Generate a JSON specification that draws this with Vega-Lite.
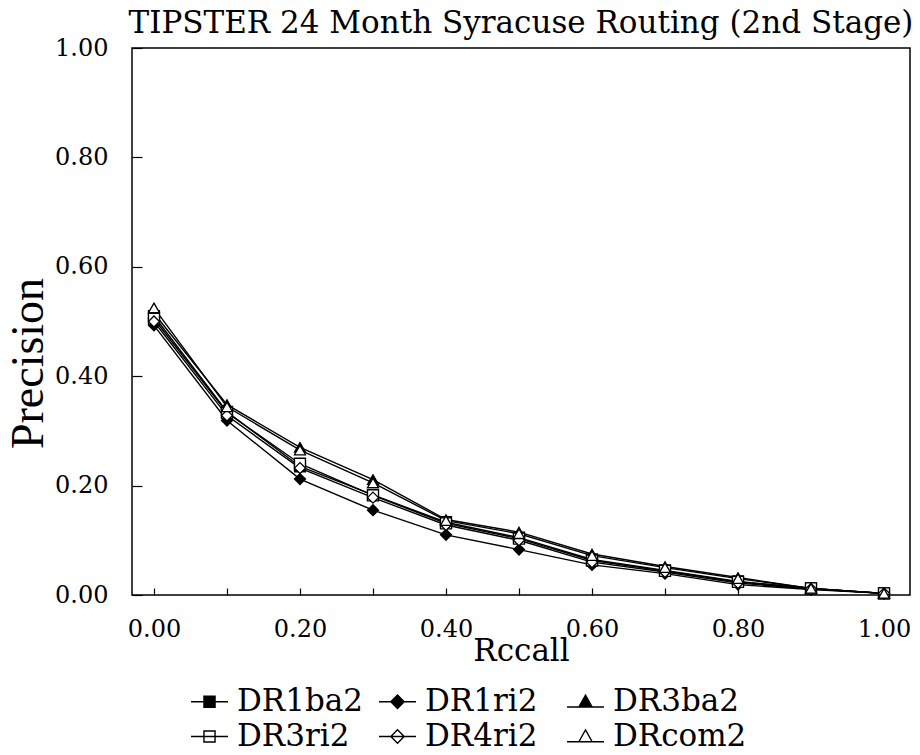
{
  "$schema": "https://vega.github.io/schema/vega-lite/v6.json",
  "autosize": "none",
  "padding": {"left": 132, "top": 48, "right": 10, "bottom": 160},
  "width": 778,
  "height": 547,
  "background": "white",
  "title": {
    "text": "TIPSTER 24 Month Syracuse Routing (2nd Stage)",
    "font": "DejaVu Serif",
    "fontSize": 31,
    "fontWeight": "normal",
    "color": "black",
    "anchor": "middle",
    "offset": -4
  },
  "config": {
    "view": {"stroke": "black", "strokeWidth": 1.5},
    "axis": {
      "grid": false,
      "domain": false,
      "tickColor": "black",
      "tickWidth": 1.2,
      "labelFont": "DejaVu Serif",
      "labelFontSize": 24,
      "labelColor": "black",
      "titleFont": "DejaVu Serif",
      "titleColor": "black",
      "titleFontWeight": "normal"
    },
    "legend": {
      "title": null,
      "orient": "none",
      "legendX": 58,
      "legendY": 634,
      "direction": "horizontal",
      "columns": 3,
      "gridAlign": "all",
      "padding": 0,
      "columnPadding": 5,
      "rowPadding": 0,
      "symbolSize": 1369,
      "symbolStrokeWidth": 1.4,
      "symbolStrokeColor": "black",
      "symbolOpacity": 1,
      "labelFont": "DejaVu Serif",
      "labelFontSize": 31,
      "labelColor": "black",
      "labelOffset": 8
    }
  },
  "resolve": {"scale": {"shape": "independent", "fill": "independent", "stroke": "independent"}},
  "data": {
    "values": [
      {"r": 0.0, "p": 0.510, "s": "DR1ba2"}, {"r": 0.1, "p": 0.335, "s": "DR1ba2"}, {"r": 0.2, "p": 0.235, "s": "DR1ba2"}, {"r": 0.3, "p": 0.183, "s": "DR1ba2"}, {"r": 0.4, "p": 0.133, "s": "DR1ba2"}, {"r": 0.5, "p": 0.105, "s": "DR1ba2"}, {"r": 0.6, "p": 0.065, "s": "DR1ba2"}, {"r": 0.7, "p": 0.045, "s": "DR1ba2"}, {"r": 0.8, "p": 0.025, "s": "DR1ba2"}, {"r": 0.9, "p": 0.012, "s": "DR1ba2"}, {"r": 1.0, "p": 0.003, "s": "DR1ba2"},
      {"r": 0.0, "p": 0.493, "s": "DR1ri2"}, {"r": 0.1, "p": 0.319, "s": "DR1ri2"}, {"r": 0.2, "p": 0.212, "s": "DR1ri2"}, {"r": 0.3, "p": 0.155, "s": "DR1ri2"}, {"r": 0.4, "p": 0.110, "s": "DR1ri2"}, {"r": 0.5, "p": 0.083, "s": "DR1ri2"}, {"r": 0.6, "p": 0.055, "s": "DR1ri2"}, {"r": 0.7, "p": 0.039, "s": "DR1ri2"}, {"r": 0.8, "p": 0.019, "s": "DR1ri2"}, {"r": 0.9, "p": 0.010, "s": "DR1ri2"}, {"r": 1.0, "p": 0.003, "s": "DR1ri2"},
      {"r": 0.0, "p": 0.515, "s": "DR3ba2"}, {"r": 0.1, "p": 0.348, "s": "DR3ba2"}, {"r": 0.2, "p": 0.270, "s": "DR3ba2"}, {"r": 0.3, "p": 0.211, "s": "DR3ba2"}, {"r": 0.4, "p": 0.138, "s": "DR3ba2"}, {"r": 0.5, "p": 0.115, "s": "DR3ba2"}, {"r": 0.6, "p": 0.075, "s": "DR3ba2"}, {"r": 0.7, "p": 0.052, "s": "DR3ba2"}, {"r": 0.8, "p": 0.032, "s": "DR3ba2"}, {"r": 0.9, "p": 0.012, "s": "DR3ba2"}, {"r": 1.0, "p": 0.003, "s": "DR3ba2"},
      {"r": 0.0, "p": 0.505, "s": "DR3ri2"}, {"r": 0.1, "p": 0.333, "s": "DR3ri2"}, {"r": 0.2, "p": 0.240, "s": "DR3ri2"}, {"r": 0.3, "p": 0.182, "s": "DR3ri2"}, {"r": 0.4, "p": 0.131, "s": "DR3ri2"}, {"r": 0.5, "p": 0.103, "s": "DR3ri2"}, {"r": 0.6, "p": 0.063, "s": "DR3ri2"}, {"r": 0.7, "p": 0.044, "s": "DR3ri2"}, {"r": 0.8, "p": 0.024, "s": "DR3ri2"}, {"r": 0.9, "p": 0.012, "s": "DR3ri2"}, {"r": 1.0, "p": 0.003, "s": "DR3ri2"},
      {"r": 0.0, "p": 0.500, "s": "DR4ri2"}, {"r": 0.1, "p": 0.328, "s": "DR4ri2"}, {"r": 0.2, "p": 0.232, "s": "DR4ri2"}, {"r": 0.3, "p": 0.178, "s": "DR4ri2"}, {"r": 0.4, "p": 0.128, "s": "DR4ri2"}, {"r": 0.5, "p": 0.100, "s": "DR4ri2"}, {"r": 0.6, "p": 0.060, "s": "DR4ri2"}, {"r": 0.7, "p": 0.042, "s": "DR4ri2"}, {"r": 0.8, "p": 0.022, "s": "DR4ri2"}, {"r": 0.9, "p": 0.011, "s": "DR4ri2"}, {"r": 1.0, "p": 0.003, "s": "DR4ri2"},
      {"r": 0.0, "p": 0.525, "s": "DRcom2"}, {"r": 0.1, "p": 0.344, "s": "DRcom2"}, {"r": 0.2, "p": 0.265, "s": "DRcom2"}, {"r": 0.3, "p": 0.205, "s": "DRcom2"}, {"r": 0.4, "p": 0.136, "s": "DRcom2"}, {"r": 0.5, "p": 0.112, "s": "DRcom2"}, {"r": 0.6, "p": 0.072, "s": "DRcom2"}, {"r": 0.7, "p": 0.050, "s": "DRcom2"}, {"r": 0.8, "p": 0.030, "s": "DRcom2"}, {"r": 0.9, "p": 0.012, "s": "DRcom2"}, {"r": 1.0, "p": 0.003, "s": "DRcom2"}
    ]
  },
  "encoding": {
    "x": {
      "field": "r",
      "type": "quantitative",
      "scale": {"domain": [-0.0301, 1.0356], "nice": false, "zero": false},
      "axis": {
        "title": "Rccall",
        "titleFontSize": 31,
        "titleBaseline": "alphabetic",
        "titleY": 65,
        "values": [0, 0.1, 0.2, 0.3, 0.4, 0.5, 0.6, 0.7, 0.8, 0.9, 1.0],
        "labelExpr": "round(datum.value * 10) % 2 == 0 ? format(datum.value, '.2f') : ''",
        "tickSize": -7,
        "labelPadding": 29
      }
    },
    "y": {
      "field": "p",
      "type": "quantitative",
      "scale": {"domain": [0, 1], "nice": false},
      "axis": {
        "title": "Precision",
        "titleFont": "Liberation Serif",
        "titleFontSize": 46,
        "titleAngle": -90,
        "titleBaseline": "alphabetic",
        "titleAlign": "center",
        "titleX": -90,
        "titleY": 315,
        "values": [0, 0.2, 0.4, 0.6, 0.8, 1.0],
        "format": ".2f",
        "tickSize": -10,
        "labelPadding": 34
      }
    }
  },
  "layer": [
    {
      "mark": {"type": "point", "filled": true, "strokeWidth": 1.4, "size": 1, "opacity": 1},
      "encoding": {
        "shape": {
          "field": "s",
          "type": "nominal",
          "scale": {
            "domain": ["DR1ba2", "DR1ri2", "DR3ba2", "DR3ri2", "DR4ri2", "DRcom2"],
            "range": [
              "M-1,0H1M-0.3,-0.3H0.3V0.3H-0.3Z",
              "M-1,0H1M0,-0.36L0.36,0L0,0.36L-0.36,0Z",
              "M-1,0.28H1M0,-0.36L0.36,0.28L-0.36,0.28Z",
              "M-1,0H1M-0.3,-0.3H0.3V0.3H-0.3Z",
              "M-1,0H1M0,-0.36L0.36,0L0,0.36L-0.36,0Z",
              "M-1,0.28H1M0,-0.36L0.36,0.28L-0.36,0.28Z"
            ]
          },
          "legend": {"title": null}
        },
        "fill": {
          "field": "s",
          "type": "nominal",
          "scale": {"domain": ["DR1ba2", "DR1ri2", "DR3ba2", "DR3ri2", "DR4ri2", "DRcom2"], "range": ["black", "black", "black", "white", "white", "white"]},
          "legend": {"title": null}
        },
        "stroke": {
          "field": "s",
          "type": "nominal",
          "scale": {"domain": ["DR1ba2", "DR1ri2", "DR3ba2", "DR3ri2", "DR4ri2", "DRcom2"], "range": ["black", "black", "black", "black", "black", "black"]},
          "legend": {"title": null}
        }
      }
    },
    {
      "mark": {"type": "line", "color": "black", "strokeWidth": 1.4},
      "encoding": {"detail": {"field": "s"}}
    },
    {
      "mark": {"type": "point", "filled": true, "stroke": "black", "strokeWidth": 1.3, "size": 120, "opacity": 1},
      "encoding": {
        "shape": {
          "field": "s",
          "type": "nominal",
          "scale": {"domain": ["DR1ba2", "DR1ri2", "DR3ba2", "DR3ri2", "DR4ri2", "DRcom2"], "range": ["square", "diamond", "triangle-up", "square", "diamond", "triangle-up"]},
          "legend": null
        },
        "fill": {
          "field": "s",
          "type": "nominal",
          "scale": {"domain": ["DR1ba2", "DR1ri2", "DR3ba2", "DR3ri2", "DR4ri2", "DRcom2"], "range": ["black", "black", "black", "white", "white", "white"]},
          "legend": null
        }
      }
    }
  ]
}
